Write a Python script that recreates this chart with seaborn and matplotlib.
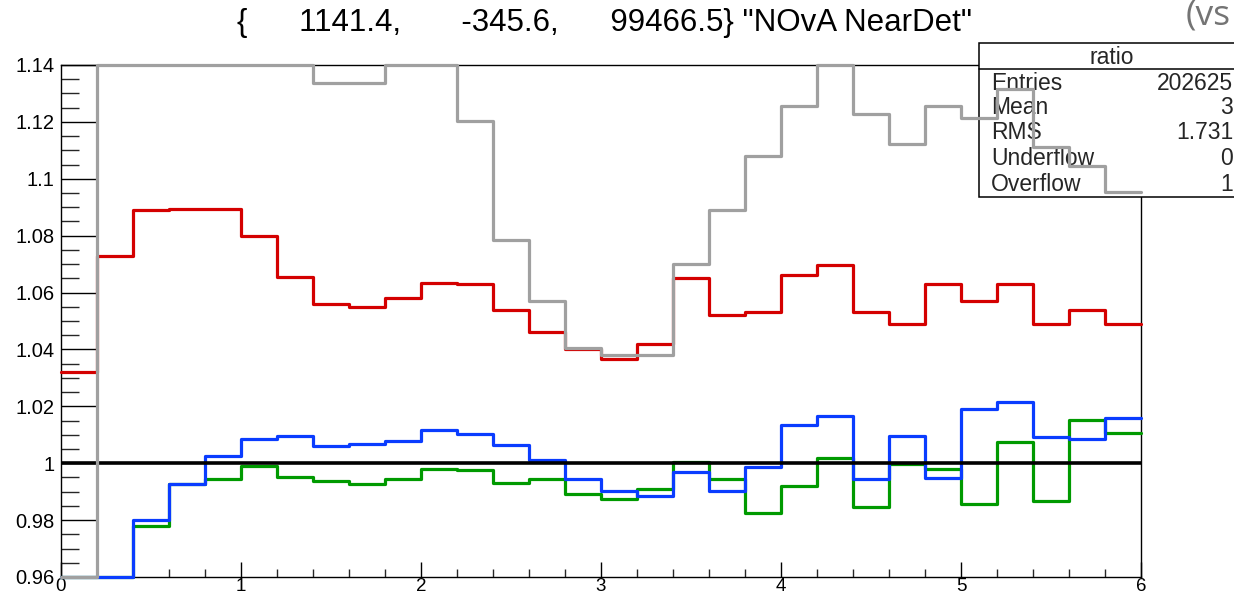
import numpy as np
import pandas as pd
import matplotlib
matplotlib.use("Agg")
import matplotlib.pyplot as plt
from matplotlib.ticker import MultipleLocator, FixedLocator, FixedFormatter
from matplotlib.patches import Rectangle
import seaborn as sns

# ---- data (30 bins of width 0.2 from 0 to 6) ----
bin_edges = [round(0.2 * i, 1) for i in range(31)]

red_vals = [1.032, 1.073, 1.089, 1.0895, 1.0895, 1.080, 1.0655, 1.056, 1.055, 1.058,
            1.0635, 1.063, 1.054, 1.046, 1.040, 1.0367, 1.042, 1.065, 1.052, 1.053,
            1.066, 1.0696, 1.053, 1.0488, 1.063, 1.057, 1.063, 1.0488, 1.0538, 1.0488]

gray_vals = [0.96, 1.14, 1.14, 1.14, 1.14, 1.14, 1.14, 1.1335, 1.1335, 1.14,
             1.14, 1.1202, 1.0785, 1.0571, 1.0405, 1.038, 1.038, 1.070, 1.0891, 1.1081,
             1.1255, 1.14, 1.1226, 1.1124, 1.1255, 1.1212, 1.1316, 1.1111, 1.1044, 1.0952]

blue_vals = [0.96, 0.96, 0.980, 0.9928, 1.0026, 1.0085, 1.0094, 1.0061, 1.0067, 1.0079,
             1.0116, 1.0104, 1.0064, 1.0012, 0.9946, 0.9902, 0.9885, 0.9969, 0.9902, 0.9987,
             1.0134, 1.0167, 0.9944, 1.0094, 0.9949, 1.0191, 1.0214, 1.0093, 1.0085, 1.0159]

green_vals = [0.96, 0.96, 0.9781, 0.9928, 0.9944, 0.9991, 0.9952, 0.9938, 0.9926, 0.9944,
              0.9981, 0.9975, 0.9932, 0.9944, 0.9891, 0.9873, 0.9908, 1.0006, 0.9944, 0.9826,
              0.9920, 1.0019, 0.9847, 0.9996, 0.9981, 0.9855, 1.0073, 0.9867, 1.0152, 1.0108]

reference_level = 1.0

x_ticks = [0, 1, 2, 3, 4, 5, 6]
x_tick_labels = ["0", "1", "2", "3", "4", "5", "6"]
y_ticks = [0.96, 0.98, 1.00, 1.02, 1.04, 1.06, 1.08, 1.10, 1.12, 1.14]
y_tick_labels = ["0.96", "0.98", "1", "1.02", "1.04", "1.06", "1.08", "1.1", "1.12", "1.14"]

title_text = '{      1141.4,       -345.6,      99466.5} "NOvA NearDet"'
stats_title = "ratio"
stats_names = ["Entries", "Mean", "RMS", "Underflow", "Overflow"]
stats_values = ["202625", "3", "1.731", "0", "1"]
corner_text = "(vs"

# ---- style ----
sns.set_style("ticks")
plt.rcParams["font.family"] = ["Liberation Sans", "DejaVu Sans"]

W, H = 1234, 599
fig = plt.figure(figsize=(W / 100, H / 100), dpi=100)
ax = fig.add_axes([61 / W, (H - 577) / H, 1080 / W, 512 / H])

ymin, ymax = 0.96, 1.14


def step_frame(vals):
    v = list(np.clip(vals, ymin, ymax))
    return pd.DataFrame({"x": bin_edges, "y": v + [v[-1]]})


series = [
    (red_vals, "#d40000", 3),
    (green_vals, "#009a00", 3.1),
    (blue_vals, "#0a3cff", 3.2),
]
for vals, col, z in series:
    sns.lineplot(data=step_frame(vals), x="x", y="y", ax=ax, color=col, lw=2.3,
                 drawstyle="steps-post", estimator=None, sort=False,
                 zorder=z, clip_on=False)

ax.axhline(reference_level, color="black", lw=2.6, zorder=3.5)

sns.lineplot(data=step_frame(gray_vals), x="x", y="y", ax=ax, color="#a0a0a0", lw=2.3,
             drawstyle="steps-post", estimator=None, sort=False, zorder=6, clip_on=False)

ax.set_xlim(0, 6)
ax.set_ylim(ymin, ymax)
ax.set_xlabel("")
ax.set_ylabel("")

ax.xaxis.set_major_locator(FixedLocator(x_ticks))
ax.xaxis.set_major_formatter(FixedFormatter(x_tick_labels))
ax.xaxis.set_minor_locator(MultipleLocator(0.2))
ax.yaxis.set_major_locator(FixedLocator(y_ticks))
ax.yaxis.set_major_formatter(FixedFormatter(y_tick_labels))
ax.yaxis.set_minor_locator(MultipleLocator(0.005))

ax.tick_params(axis="x", which="major", direction="in", length=10.8, width=1.0,
               labelsize=13.5, pad=0.6, colors="black", top=False)
ax.tick_params(axis="x", which="minor", direction="in", length=6.0, width=1.0, top=False)
ax.tick_params(axis="y", which="major", direction="in", length=25.0, width=1.0,
               labelsize=14.5, pad=4.5, colors="black", right=False)
ax.tick_params(axis="y", which="minor", direction="in", length=13.0, width=1.0, right=False)

for s in ax.spines.values():
    s.set_visible(True)
    s.set_color("black")
    s.set_linewidth(1.0)

# ---- title ----
fig.text(604.5 / W, 1 - 22.5 / H, title_text, ha="center", va="center",
         fontsize=22.5, color="black")

# ---- stats box ----
bx0, bx1 = 979, 1252
by_top, by_div, by_bot = 43.5, 69.3, 196.7
box = Rectangle((bx0 / W, 1 - by_bot / H), (bx1 - bx0) / W, (by_bot - by_top) / H,
                transform=fig.transFigure, facecolor="white", edgecolor="black",
                lw=1.1, zorder=4, clip_on=False)
ax.add_artist(box)
ax.plot([bx0 / W, bx1 / W], [1 - by_div / H, 1 - by_div / H], transform=fig.transFigure,
        color="black", lw=1.1, zorder=4.1, clip_on=False)
ax.text(1112 / W, 1 - 57.5 / H, stats_title, transform=fig.transFigure, ha="center",
        va="center", fontsize=16.5, zorder=4.2, clip_on=False)
row_y = [83.7, 108.0, 132.8, 158.5, 184.5]
for name, val, ry in zip(stats_names, stats_values, row_y):
    ax.text(991 / W, 1 - ry / H, name, transform=fig.transFigure, ha="left",
            va="center", fontsize=16.5, zorder=4.2, clip_on=False)
    ax.text(1233 / W, 1 - ry / H, val, transform=fig.transFigure, ha="right",
            va="center", fontsize=16.5, zorder=4.2, clip_on=False)

# ---- corner text ----
fig.text(1186 / W, 1 - 24 / H, corner_text, ha="left", va="baseline",
         fontsize=25.5, color="#747474", family=["Open Sans", "DejaVu Sans"])

fig.savefig("out.png", dpi=100, facecolor="white")
